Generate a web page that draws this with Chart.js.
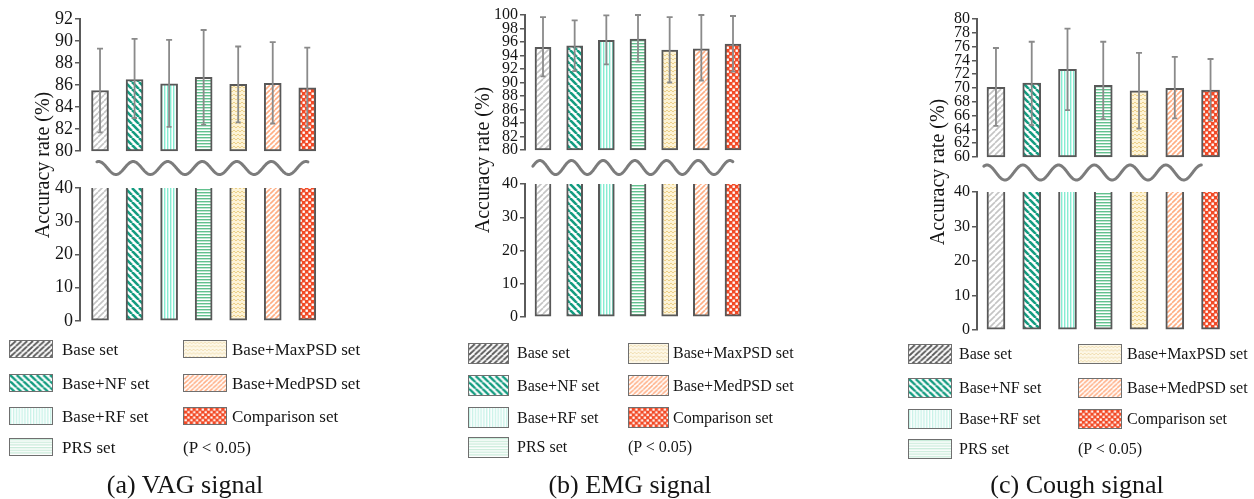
<!DOCTYPE html>
<html><head><meta charset="utf-8">
<script src="https://cdn.jsdelivr.net/npm/chart.js@4.4.1/dist/chart.umd.min.js"></script>
<style>
html,body{margin:0;padding:0;background:#fff}
body{width:1254px;height:499px;position:relative;overflow:hidden;font-family:"Liberation Serif","Times New Roman",serif;color:#151515}
canvas.ch{position:absolute}
.ytitle{position:absolute;transform:translate(-50%,-50%) rotate(-90deg);white-space:nowrap;font-size:20px;line-height:1}
.sw{position:absolute;box-sizing:border-box;border:1.6px solid #6f6f6f}
.lt{position:absolute;white-space:nowrap;transform:translateY(-50%);line-height:1}
.cap{position:absolute;transform:translate(-50%,-50%);font-size:26px;white-space:nowrap;line-height:1}
</style>
</head><body>
<script>
// ---------------- data ----------------
const categories = ['Base set','Base+NF set','Base+RF set','PRS set','Base+MaxPSD set','Base+MedPSD set','Comparison set'];
const vagMean  = [85.5, 86.5, 86.1, 86.7, 86.05, 86.15, 85.75];
const vagLow   = [81.7, 83.0, 82.2, 82.4, 82.6, 82.5, 82.1];
const vagHigh  = [89.3, 90.2, 90.1, 91.0, 89.5, 89.9, 89.4];
const emgMean  = [95.2, 95.45, 96.25, 96.45, 94.8, 95.0, 95.7];
const emgLow   = [90.9, 91.7, 92.7, 93.1, 90.0, 90.3, 91.6];
const emgHigh  = [99.7, 99.2, 99.95, 100, 99.7, 100, 99.85];
const coughMean = [70.1, 70.7, 72.7, 70.4, 69.6, 69.95, 69.7];
const coughLow  = [64.5, 64.6, 66.8, 65.5, 64.1, 65.6, 65.3];
const coughHigh = [75.8, 76.7, 78.6, 76.7, 75.1, 74.5, 74.2];
const vagUpperTicks   = [80, 82, 84, 86, 88, 90, 92];
const emgUpperTicks   = [80, 82, 84, 86, 88, 90, 92, 94, 96, 98, 100];
const coughUpperTicks = [60, 62, 64, 66, 68, 70, 72, 74, 76, 78, 80];
const lowerTicks = [0, 10, 20, 30, 40];
const yTitle = 'Accuracy rate (%)';
const pNote = '(P < 0.05)';
const captions = ['(a) VAG signal', '(b) EMG signal', '(c) Cough signal'];

// ---------------- patterns ----------------
function makePattern(idx, legend) {
  const cv = document.createElement('canvas');
  const g = cv.getContext('2d');
  function tile(w, h, bg) { cv.width = w; cv.height = h; g.fillStyle = bg; g.fillRect(0, 0, w, h); }
  function diag(s, color, lw, back) {
    g.strokeStyle = color; g.lineWidth = lw;
    for (let k = -1; k <= 1; k++) {
      g.beginPath();
      if (back) { g.moveTo(k * s, 0); g.lineTo(k * s + s, s); }
      else { g.moveTo(k * s, s); g.lineTo(k * s + s, 0); }
      g.stroke();
    }
  }
  if (idx === 0) { tile(6, 6, '#ffffff'); diag(6, legend ? '#5a5a5a' : '#c4c4c4', legend ? 2 : 1.6, false); }
  else if (idx === 1) { tile(7, 7, '#ffffff'); diag(7, '#149c80', 2.6, true); }
  else if (idx === 2) { tile(3, 3, '#ffffff'); g.fillStyle = legend ? '#c8f3e8' : '#86ecd2'; g.fillRect(0, 0, 1.4, 3); }
  else if (idx === 3) { tile(3, 3, '#ffffff'); g.fillStyle = legend ? '#c9ecda' : '#62c18e'; g.fillRect(0, 0, 3, 1.4); }
  else if (idx === 4) {
    tile(8, 4, legend ? '#fdf7e6' : '#fdf3d6');
    g.strokeStyle = legend ? '#f1dfb4' : '#ecd089'; g.lineWidth = 1;
    g.beginPath(); g.moveTo(0, 3); g.lineTo(2, 1); g.lineTo(4, 3); g.lineTo(6, 1); g.lineTo(8, 3); g.stroke();
  }
  else if (idx === 5) { tile(5, 5, '#ffffff'); diag(5, '#ffae84', 1.6, false); }
  else {
    tile(6, 6, '#f24a26'); g.fillStyle = '#ffffff';
    g.fillRect(0.5, 0.5, 2.4, 2.4); g.fillRect(3.5, 3.5, 2.4, 2.4);
  }
  return g.createPattern(cv, 'repeat');
}
const barPatterns = categories.map((c, i) => makePattern(i, false));

// ---------------- plugins ----------------
const errPlugin = {
  id: 'errBars',
  afterDatasetsDraw(chart, args, opts) {
    if (!opts || !opts.low) return;
    const meta = chart.getDatasetMeta(0), ys = chart.scales.y, ctx = chart.ctx;
    ctx.save(); ctx.strokeStyle = '#8a8a8a'; ctx.lineWidth = 1.8;
    meta.data.forEach((bar, i) => {
      const x = bar.x, yl = ys.getPixelForValue(opts.low[i]), yh = ys.getPixelForValue(opts.high[i]);
      ctx.beginPath();
      ctx.moveTo(x, yl); ctx.lineTo(x, yh);
      ctx.moveTo(x - 3, yh); ctx.lineTo(x + 3, yh);
      ctx.moveTo(x - 2.5, yl); ctx.lineTo(x + 2.5, yl);
      ctx.stroke();
    });
    ctx.restore();
  }
};
const wavePlugin = {
  id: 'breakWave',
  afterDraw(chart, args, o) {
    if (!o || !o.show) return;
    const xs = chart.scales.x, ctx = chart.ctx;
    const y0 = chart.chartArea.bottom + o.offset;
    const p0 = xs.getPixelForValue(o.from), p1 = xs.getPixelForValue(o.to);
    const pc = xs.getPixelForValue(o.crest), per = xs.getPixelForValue(o.crest + 1) - pc;
    ctx.save(); ctx.beginPath();
    for (let px = p0; px <= p1; px += 0.5) {
      const y = y0 - o.amp * Math.cos(2 * Math.PI * (px - pc) / per);
      if (px === p0) ctx.moveTo(px, y); else ctx.lineTo(px, y);
    }
    ctx.strokeStyle = '#7c7c7c'; ctx.lineWidth = 3; ctx.lineCap = 'round'; ctx.stroke(); ctx.restore();
  }
};
Chart.register(errPlugin, wavePlugin);

// ---------------- layout ----------------
const YW = 60, PAD = 14;
const panels = [
  { mean: vagMean, low: vagLow, high: vagHigh, ticks: vagUpperTicks, axisX: 80, c1: 100, sp: 34.5,
    upTop: 19, upBot: 151, loTop: 188, loBot: 321, barW: 17, font: 18,
    wave: { from: 0.91, to: 7.02, crest: 1.96, offset: 17, amp: 6.5 },
    title: { x: 42, y: 165 },
    leg: { x0: 9, x1: 183, t0: 62, t1: 232, rows: [349, 383, 416, 447], w: 44, h: 18, font: 17 },
    cap: { x: 185, y: 485 } },
  { mean: emgMean, low: emgLow, high: emgHigh, ticks: emgUpperTicks, axisX: 525, c1: 543, sp: 31.67,
    upTop: 15, upBot: 150, loTop: 184, loBot: 317, barW: 16, font: 16,
    wave: { from: 0.68, to: 7.0, crest: 1.9, offset: 17.5, amp: 7 },
    title: { x: 482, y: 160 },
    leg: { x0: 468, x1: 628, t0: 517, t1: 673, rows: [353, 385.5, 417.5, 447], w: 41, h: 21, font: 16 },
    cap: { x: 630, y: 485 } },
  { mean: coughMean, low: coughLow, high: coughHigh, ticks: coughUpperTicks, axisX: 977, c1: 996, sp: 35.83,
    upTop: 19, upBot: 157, loTop: 192, loBot: 330, barW: 18, font: 16,
    wave: { from: 0.66, to: 6.75, crest: 1.75, offset: 15.5, amp: 7.5 },
    title: { x: 937, y: 172 },
    leg: { x0: 908, x1: 1078, t0: 959, t1: 1127, rows: [354, 387.5, 418.5, 448.5], w: 44, h: 20, font: 16 },
    cap: { x: 1077, y: 485 } }
];

function addChart(p, upper) {
  const xMin = 1 - (p.c1 - p.axisX) / p.sp, xMax = 7.6;
  const areaW = (xMax - xMin) * p.sp;
  const top = upper ? p.upTop : p.loTop, bot = upper ? p.upBot : p.loBot;
  const padBottom = upper ? 45 : PAD;
  const cv = document.createElement('canvas');
  cv.className = 'ch';
  cv.width = Math.round(YW + areaW);
  cv.height = Math.round(bot - top + PAD + padBottom);
  cv.style.left = (p.axisX - YW) + 'px';
  cv.style.top = (top - PAD) + 'px';
  document.body.appendChild(cv);
  const tickVals = upper ? p.ticks : lowerTicks;
  const data = p.mean.map((v, i) => ({ x: i + 1, y: upper ? [p.ticks[0], v] : v }));
  new Chart(cv, {
    type: 'bar',
    data: { datasets: [{ label: 'accuracy', data,
      backgroundColor: barPatterns, borderColor: '#585858', borderWidth: 2, borderSkipped: false,
      barThickness: p.barW, clip: { left: 10, right: 10, top: upper ? 10 : 0, bottom: 10 } }] },
    options: {
      responsive: false, animation: false, devicePixelRatio: 1,
      layout: { padding: { top: PAD, bottom: padBottom, left: 0, right: 0 } },
      plugins: { legend: { display: false }, tooltip: { enabled: false },
        errBars: upper ? { low: p.low, high: p.high } : {},
        breakWave: upper ? Object.assign({ show: true }, p.wave) : { show: false } },
      scales: {
        x: { type: 'linear', display: false, offset: false, min: xMin, max: xMax, grid: { offset: false } },
        y: { type: 'linear', min: tickVals[0], max: tickVals[tickVals.length - 1],
          afterBuildTicks: s => { s.ticks = tickVals.map(v => ({ value: v })); },
          afterFit: s => { s.width = YW; },
          border: { display: true, color: '#5a5a5a', width: 2 },
          grid: { drawOnChartArea: false, drawTicks: true, tickLength: 5, color: '#5a5a5a', lineWidth: 1.5 },
          ticks: { autoSkip: false, padding: 2, color: '#151515', font: { family: '"Liberation Serif", serif', size: p.font } } }
      }
    }
  });
}

function addDiv(cls, text, x, y, extra) {
  const d = document.createElement('div');
  d.className = cls; d.textContent = text;
  d.style.left = x + 'px'; d.style.top = y + 'px';
  if (extra) Object.assign(d.style, extra);
  document.body.appendChild(d);
  return d;
}

panels.forEach(p => {
  addChart(p, true);
  addChart(p, false);
  addDiv('ytitle', yTitle, p.title.x, p.title.y);
  const L = p.leg;
  categories.forEach((name, i) => {
    const col = i < 4 ? 0 : 1, row = i < 4 ? i : i - 4;
    const sx = col ? L.x1 : L.x0, tx = col ? L.t1 : L.t0, cy = L.rows[row];
    const sw = document.createElement('canvas');
    sw.className = 'sw'; sw.width = L.w; sw.height = L.h;
    sw.style.left = sx + 'px'; sw.style.top = (cy - L.h / 2) + 'px';
    sw.style.width = L.w + 'px'; sw.style.height = L.h + 'px';
    const g = sw.getContext('2d'); g.fillStyle = makePattern(i, true); g.fillRect(0, 0, L.w, L.h);
    document.body.appendChild(sw);
    addDiv('lt', name, tx, cy, { fontSize: L.font + 'px' });
  });
  addDiv('lt', pNote, L.x1, L.rows[3], { fontSize: L.font + 'px' });
});
captions.forEach((t, i) => addDiv('cap', t, panels[i].cap.x, panels[i].cap.y));
</script>
</body></html>
